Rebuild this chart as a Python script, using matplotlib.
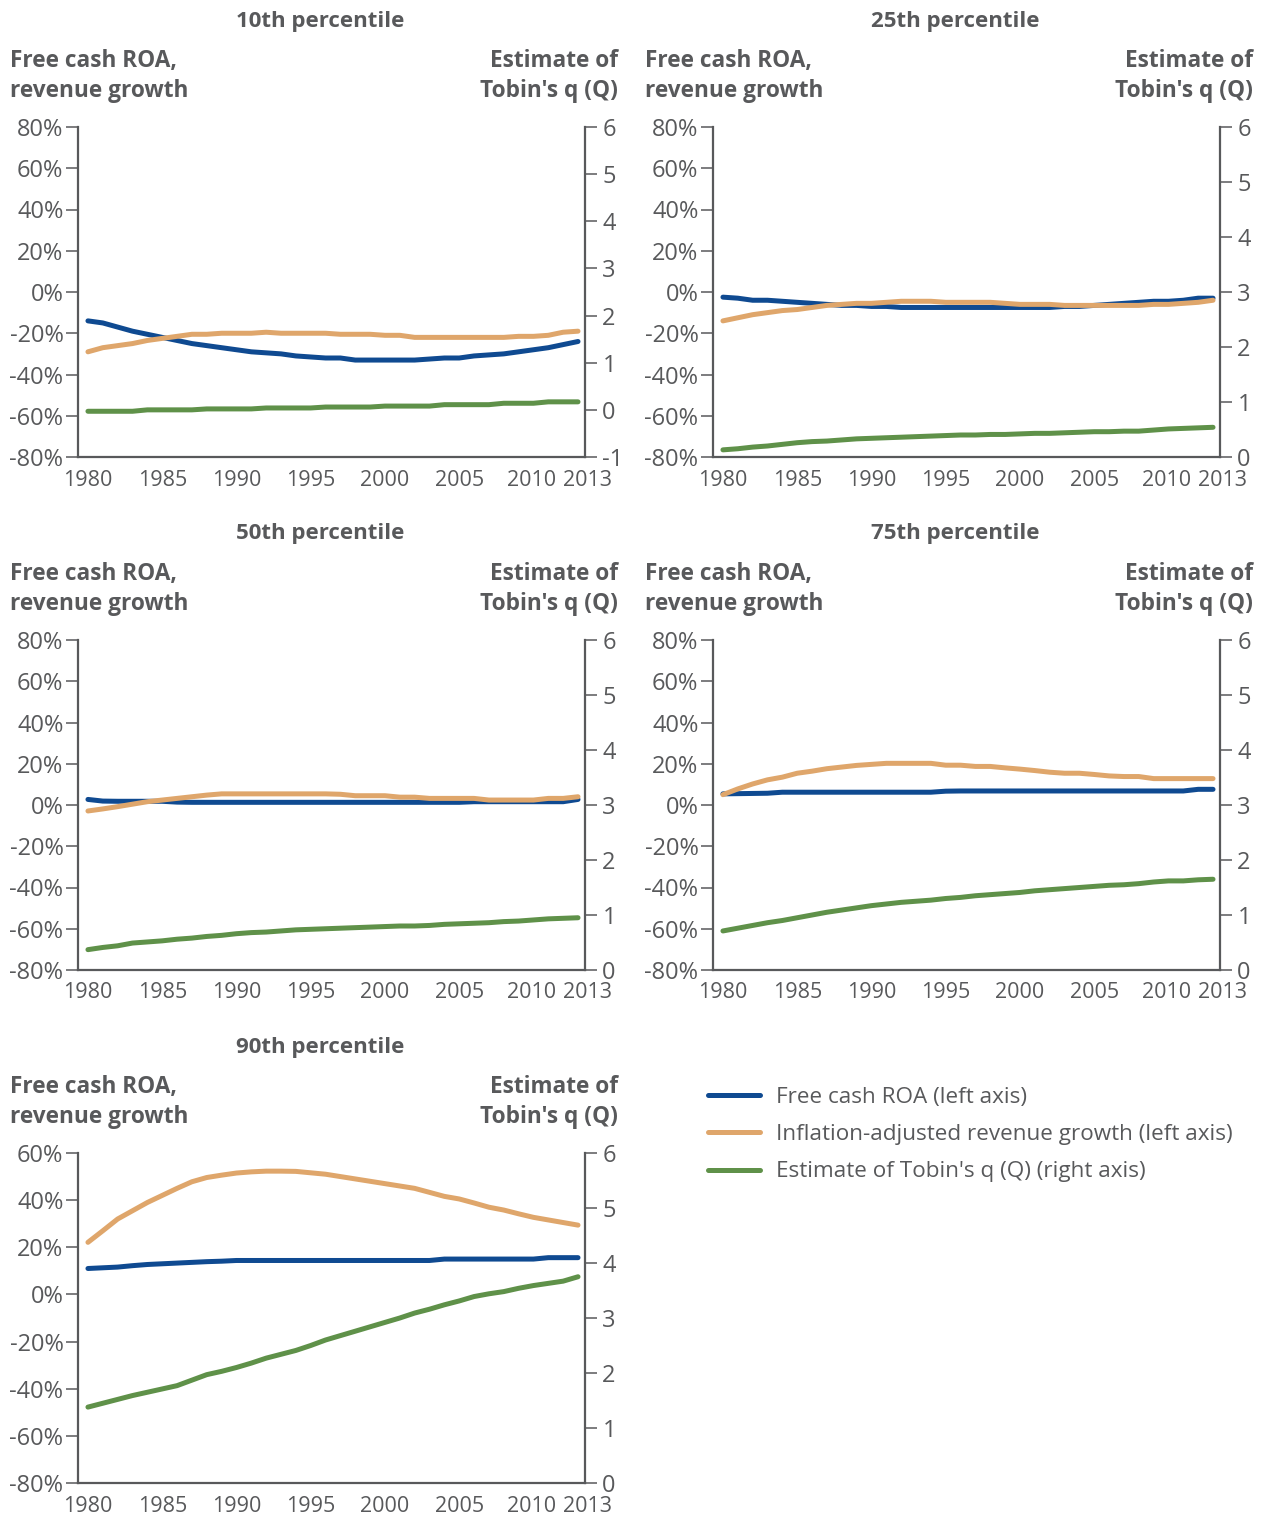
import matplotlib.pyplot as plt
import matplotlib.transforms as mtransforms
from matplotlib.lines import Line2D

plt.rcParams["font.family"] = ["Open Sans", "DejaVu Sans"]

YEARS = list(range(1980, 2014))
TITLES = ["10th percentile", "25th percentile", "50th percentile",
          "75th percentile", "90th percentile"]

ROA = [
    [-14, -15, -17, -19, -20.5, -22, -23.5, -25, -26, -27, -28, -29, -29.5, -30,
     -31, -31.5, -32, -32, -33, -33, -33, -33, -33, -32.5, -32, -32, -31, -30.5,
     -30, -29, -28, -27, -25.5, -24],
    [-2.5, -3, -4, -4, -4.5, -5, -5.5, -6, -6.5, -6.5, -7, -7, -7.5, -7.5, -7.5,
     -7.5, -7.5, -7.5, -7.5, -7.5, -7.5, -7.5, -7.5, -7, -7, -6.5, -6, -5.5, -5,
     -4.5, -4.5, -4, -3, -3],
    [2.7, 1.9, 1.8, 1.8, 1.8, 1.8, 1.4, 1.3, 1.3, 1.3, 1.3, 1.3, 1.3, 1.3, 1.3,
     1.3, 1.3, 1.3, 1.3, 1.3, 1.3, 1.3, 1.3, 1.3, 1.3, 1.3, 1.6, 1.6, 1.6, 1.6,
     1.6, 1.6, 1.6, 2.7],
    [5.4, 5.5, 5.6, 5.7, 6.2, 6.2, 6.2, 6.2, 6.2, 6.2, 6.2, 6.2, 6.2, 6.2, 6.2,
     6.7, 6.8, 6.8, 6.8, 6.8, 6.8, 6.8, 6.8, 6.8, 6.8, 6.8, 6.8, 6.8, 6.8, 6.8,
     6.8, 6.8, 7.6, 7.6],
    [11, 11.3, 11.6, 12.2, 12.7, 13, 13.3, 13.6, 13.9, 14.1, 14.4, 14.4, 14.4,
     14.4, 14.4, 14.4, 14.4, 14.4, 14.4, 14.4, 14.4, 14.4, 14.4, 14.4, 15, 15,
     15, 15, 15, 15, 15, 15.6, 15.6, 15.6],
]

REV_GROWTH = [
    [-29, -27, -26, -25, -23.5, -22.5, -21.5, -20.5, -20.5, -20, -20, -20, -19.5,
     -20, -20, -20, -20, -20.5, -20.5, -20.5, -21, -21, -22, -22, -22, -22, -22,
     -22, -22, -21.5, -21.5, -21, -19.5, -19],
    [-14, -12.5, -11, -10, -9, -8.5, -7.5, -6.5, -6, -5.5, -5.5, -5, -4.5, -4.5,
     -4.5, -5, -5, -5, -5, -5.5, -6, -6, -6, -6.5, -6.5, -6.5, -6.5, -6.5, -6.5,
     -6, -6, -5.5, -5, -4],
    [-2.9, -1.9, -0.8, 0.4, 1.6, 2.4, 3.2, 4.0, 4.8, 5.4, 5.4, 5.4, 5.4, 5.4, 5.4,
     5.4, 5.4, 5.2, 4.5, 4.5, 4.5, 3.8, 3.8, 3.2, 3.2, 3.2, 3.2, 2.4, 2.4, 2.4,
     2.4, 3.2, 3.2, 4.0],
    [5.0, 7.8, 10.2, 12.2, 13.5, 15.4, 16.4, 17.6, 18.4, 19.2, 19.7, 20.2, 20.2,
     20.2, 20.2, 19.3, 19.3, 18.7, 18.7, 18.0, 17.4, 16.7, 15.9, 15.4, 15.4, 14.8,
     14.1, 13.8, 13.8, 12.8, 12.8, 12.8, 12.8, 12.8],
    [22.1, 27, 32, 35.5, 39, 42, 45, 47.8, 49.6, 50.6, 51.5, 52, 52.3, 52.3, 52.2,
     51.6, 51, 50, 49, 48, 47, 46, 45, 43.3, 41.6, 40.5, 38.8, 37, 35.8, 34.2,
     32.7, 31.6, 30.5, 29.4],
]

TOBINS_Q = [
    [-0.03, -0.03, -0.03, -0.03, 0.0, 0.0, 0.0, 0.0, 0.02, 0.02, 0.02, 0.02, 0.04,
     0.04, 0.04, 0.04, 0.06, 0.06, 0.06, 0.06, 0.08, 0.08, 0.08, 0.08, 0.11, 0.11,
     0.11, 0.11, 0.14, 0.14, 0.14, 0.17, 0.17, 0.17],
    [0.13, 0.15, 0.18, 0.2, 0.23, 0.26, 0.28, 0.29, 0.31, 0.33, 0.34, 0.35, 0.36,
     0.37, 0.38, 0.39, 0.40, 0.40, 0.41, 0.41, 0.42, 0.43, 0.43, 0.44, 0.45, 0.46,
     0.46, 0.47, 0.47, 0.49, 0.51, 0.52, 0.53, 0.54],
    [0.37, 0.41, 0.44, 0.49, 0.51, 0.53, 0.56, 0.58, 0.61, 0.63, 0.66, 0.68, 0.69,
     0.71, 0.73, 0.74, 0.75, 0.76, 0.77, 0.78, 0.79, 0.80, 0.80, 0.81, 0.83, 0.84,
     0.85, 0.86, 0.88, 0.89, 0.91, 0.93, 0.94, 0.95],
    [0.71, 0.76, 0.81, 0.86, 0.90, 0.95, 1.0, 1.05, 1.09, 1.13, 1.17, 1.20, 1.23,
     1.25, 1.27, 1.30, 1.32, 1.35, 1.37, 1.39, 1.41, 1.44, 1.46, 1.48, 1.50, 1.52,
     1.54, 1.55, 1.57, 1.60, 1.62, 1.62, 1.64, 1.65],
    [1.38, 1.45, 1.52, 1.59, 1.65, 1.71, 1.77, 1.87, 1.97, 2.03, 2.1, 2.18, 2.27,
     2.34, 2.41, 2.5, 2.6, 2.68, 2.76, 2.84, 2.92, 3.0, 3.09, 3.16, 3.24, 3.31,
     3.39, 3.44, 3.48, 3.54, 3.59, 3.63, 3.67, 3.75],
]

LEFT_TICKS = [list(range(-80, 81, 20))] * 4 + [list(range(-80, 61, 20))]
RIGHT_TICKS = [list(range(-1, 7)), list(range(0, 7)), list(range(0, 7)),
               list(range(0, 7)), list(range(0, 7))]
X_TICKS = [1980, 1985, 1990, 1995, 2000, 2005, 2010, 2013]
LEGEND_LABELS = ["Free cash ROA (left axis)",
                 "Inflation-adjusted revenue growth (left axis)",
                 "Estimate of Tobin's q (Q) (right axis)"]

BLUE = "#0f4a91"
ORANGE = "#dfa66b"
GREY = "#58595b"
GREEN = "#5f9149"

W, H = 1268, 1518
fig = plt.figure(figsize=(W / 100, H / 100), dpi=100)

# panel boxes in pixels: left spine, top
PANEL_POS = [(78, 127), (713, 127), (78, 640), (713, 640), (78, 1153)]
PW, PH = 507, 330


def nudge(label, dx_px):
    label.set_transform(label.get_transform() +
                        mtransforms.ScaledTranslation(dx_px / 100, 0,
                                                      fig.dpi_scale_trans))


for i, (px, py) in enumerate(PANEL_POS):
    ax = fig.add_axes([px / W, 1 - (py + PH) / H, PW / W, PH / H])
    ax2 = ax.twinx()
    ax.set_zorder(ax2.get_zorder() + 1)
    ax.patch.set_visible(False)

    ax2.plot(YEARS, TOBINS_Q[i], color=GREEN, lw=3.6, solid_capstyle="round")
    ax.plot(YEARS, ROA[i], color=BLUE, lw=3.6, solid_capstyle="round")
    ax.plot(YEARS, REV_GROWTH[i], color=ORANGE, lw=3.6, solid_capstyle="round")

    ax.set_xlim(1979.33, 2013.47)
    lt, rt = LEFT_TICKS[i], RIGHT_TICKS[i]
    ax.set_ylim(lt[0], lt[-1])
    ax2.set_ylim(rt[0], rt[-1])
    ax.set_yticks(lt)
    ax.set_yticklabels([f"{v}%" for v in lt])
    ax2.set_yticks(rt)
    ax2.set_yticklabels([f"{v}" for v in rt])
    ax.set_xticks(X_TICKS)
    ax.set_xticklabels([str(v) for v in X_TICKS])

    for a in (ax, ax2):
        for s in a.spines.values():
            s.set_color(GREY)
            s.set_linewidth(1.6)
        a.spines["top"].set_visible(False)
    ax.spines["right"].set_visible(False)
    ax2.spines["left"].set_visible(False)
    ax2.spines["bottom"].set_visible(False)

    ax.tick_params(axis="y", length=8.5, width=1.1, color=GREY, labelcolor=GREY,
                   labelsize=17, pad=2)
    ax.tick_params(axis="x", length=0, labelcolor=GREY, labelsize=15.5, pad=9)
    ax2.tick_params(axis="y", length=8.5, width=1.1, color=GREY, labelcolor=GREY,
                    labelsize=17, pad=4)

    # keep 2010 and 2013 apart
    xl = ax.get_xticklabels()
    nudge(xl[-2], -2)
    nudge(xl[-1], 9)

    # headings above each panel
    cx = px + 242
    fig.text(cx / W, 1 - (py - 106) / H, TITLES[i], ha="center", va="center",
             fontsize=16, fontweight="bold", color=GREY)
    fig.text((px - 68) / W, 1 - (py - 51) / H, "Free cash ROA,\nrevenue growth",
             ha="left", va="center", fontsize=16.3, fontweight="bold",
             color=GREY, linespacing=1.32)
    fig.text((px + 540) / W, 1 - (py - 51) / H, "Estimate of\nTobin's q (Q)",
             ha="right", va="center", fontsize=16.3, fontweight="bold",
             color=GREY, linespacing=1.32, multialignment="right")

handles = [Line2D([], [], color=c, lw=3.6, solid_capstyle="round")
           for c in (BLUE, ORANGE, GREEN)]
leg = fig.legend(handles, LEGEND_LABELS, loc="upper left",
                 bbox_to_anchor=(708 / W, 1 - 1087 / H), frameon=False,
                 fontsize=16.2, handlelength=2.3, handletextpad=0.7,
                 labelspacing=0.72, borderaxespad=0, borderpad=0)
for t in leg.get_texts():
    t.set_color(GREY)

fig.savefig("out.png", dpi=100)
